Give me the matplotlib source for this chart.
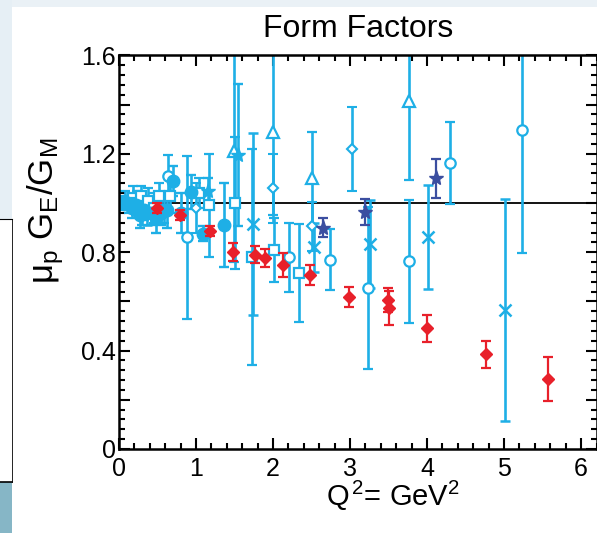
import numpy as np
import matplotlib
matplotlib.use('Agg')
import matplotlib.pyplot as plt
from matplotlib.patches import Rectangle
from matplotlib.lines import Line2D
from matplotlib.ticker import FixedLocator, MultipleLocator

plt.rcParams['font.family'] = ['Liberation Sans', 'DejaVu Sans']
plt.rcParams['mathtext.fontset'] = 'custom'
plt.rcParams['mathtext.rm'] = 'Liberation Sans'
plt.rcParams['mathtext.it'] = 'Liberation Sans'
plt.rcParams['mathtext.default'] = 'regular'

# red diamonds (recoil polarization)
red_q2 = [0.49, 0.79, 1.18, 1.48, 1.77, 1.90, 2.13, 2.48, 2.99, 3.49, 3.51, 4.00, 4.77, 5.57]
red_r = [0.98, 0.95, 0.885, 0.80, 0.79, 0.776, 0.748, 0.707, 0.618, 0.606, 0.573, 0.49, 0.386, 0.285]
red_err = [0.02, 0.02, 0.02, 0.037, 0.035, 0.035, 0.048, 0.04, 0.04, 0.05, 0.07, 0.055, 0.055, 0.09]

# dark blue stars
nav_q2 = [2.65, 3.19, 4.12]
nav_r = [0.90, 0.963, 1.10]
nav_err = [0.04, 0.053, 0.078]

# light blue data (Rosenbluth), by marker
fc_q2 = [0.05, 0.12, 0.17, 0.22, 0.27, 0.32, 0.42, 0.48, 0.55, 0.62, 0.70, 0.80, 0.94, 1.09, 1.36]
fc_r = [1.00, 1.00, 0.98, 0.99, 0.95, 0.97, 0.96, 0.94, 0.96, 0.97, 1.09, 0.96, 1.045, 0.875, 0.91]
fc_err = [0.02, 0.03, 0.04, 0.04, 0.05, 0.04, 0.05, 0.06, 0.05, 0.07, 0.06, 0.08, 0.07, 0.03, 0.17]

sq_q2 = [0.08, 0.13, 0.18, 0.24, 0.28, 0.38, 0.45, 0.52, 0.58, 0.66, 1.04, 1.17, 1.51, 1.73, 2.01, 2.34]
sq_r = [1.01, 0.99, 1.02, 1.00, 1.03, 1.01, 0.98, 1.03, 0.97, 1.03, 1.04, 0.99, 1.00, 0.78, 0.81, 0.715]
sq_err = [0.04, 0.03, 0.05, 0.05, 0.04, 0.05, 0.06, 0.05, 0.05, 0.07, 0.06, 0.21, 0.27, 0.44, 0.13, 0.20]

oc_q2 = [0.64, 0.88, 2.21, 2.74, 3.23, 3.77, 4.30, 5.23]
oc_r = [1.11, 0.86, 0.78, 0.77, 0.655, 0.764, 1.163, 1.297]
oc_err = [0.085, 0.33, 0.14, 0.125, 0.33, 0.25, 0.167, 0.50]

od_q2 = [1.00, 2.00, 2.51, 3.03]
od_r = [0.98, 1.06, 0.905, 1.22]
od_err = [0.10, 0.14, 0.10, 0.17]

ot_q2 = [1.49, 2.00, 2.51, 3.77]
ot_r = [1.21, 1.29, 1.10, 1.415]
ot_err = [0.45, 0.34, 0.19, 0.32]

cx_q2 = [0.36, 1.74, 2.53, 3.26, 4.01, 5.01]
cx_r = [0.95, 0.915, 0.82, 0.834, 0.862, 0.565]
cx_err = [0.04, 0.37, 0.10, 0.18, 0.21, 0.45]

cs_q2 = [0.30, 1.16, 1.55]
cs_r = [0.96, 1.05, 1.195]
cs_err = [0.05, 0.05, 0.29]

cyan = '#1eafe6'
red = '#e8202a'
navy = '#3b4ea0'

W, H = 597, 533
fig = plt.figure(figsize=(W / 100, H / 100), dpi=100)

# slide background bits
fig.patches.append(Rectangle((0, 1 - 7 / H), 1, 7 / H, transform=fig.transFigure,
                             facecolor='#eaf1f6', edgecolor='none', zorder=0))
fig.patches.append(Rectangle((0, 1 - 219 / H), 12 / W, 219 / H, transform=fig.transFigure,
                             facecolor='#e6eff5', edgecolor='none', zorder=0))
fig.patches.append(Rectangle((0, 0), 12 / W, 51 / H, transform=fig.transFigure,
                             facecolor='#86b6c6', edgecolor='none', zorder=0))
fig.lines.append(Line2D([0, 12 / W], [1 - 219 / H] * 2, transform=fig.transFigure, color='k', lw=0.8))
fig.lines.append(Line2D([12 / W] * 2, [1 - 219 / H, 51 / H], transform=fig.transFigure, color='k', lw=0.6))
fig.lines.append(Line2D([0, 12 / W], [51 / H] * 2, transform=fig.transFigure, color='k', lw=1.2))

ax = fig.add_axes([119 / W, 1 - 449 / H, (596.5 - 119) / W, 393.6 / H])
ax.set_xlim(0, 6.2)
ax.set_ylim(0, 1.6)

ax.axhline(1.0, color='k', lw=1.3, zorder=1)

eb = dict(linestyle='none', ecolor=cyan, elinewidth=1.9, capsize=3.5, capthick=1.7, zorder=2)
ax.errorbar(sq_q2, sq_r, yerr=sq_err, marker='s', ms=6.5, mfc='white', mec=cyan, mew=1.6, **eb)
ax.errorbar(oc_q2, oc_r, yerr=oc_err, marker='o', ms=7.5, mfc='white', mec=cyan, mew=1.6, **eb)
ax.errorbar(od_q2, od_r, yerr=od_err, marker='D', ms=5.5, mfc='white', mec=cyan, mew=1.5, **eb)
ax.errorbar(ot_q2, ot_r, yerr=ot_err, marker='^', ms=8, mfc='white', mec=cyan, mew=1.6, **eb)
ax.errorbar(cx_q2, cx_r, yerr=cx_err, marker='x', ms=8, mec=cyan, mew=1.8, **eb)
ax.errorbar(fc_q2, fc_r, yerr=fc_err, marker='o', ms=9, mfc=cyan, mec=cyan, **eb)
ax.errorbar(cs_q2, cs_r, yerr=cs_err, marker='*', ms=11, mfc=cyan, mec=cyan, **eb)

ax.errorbar(red_q2, red_r, yerr=red_err, linestyle='none', marker='D', ms=5.8,
            color=red, ecolor=red, elinewidth=1.6, capsize=3.5, capthick=1.6, zorder=4)
ax.errorbar(nav_q2, nav_r, yerr=nav_err, linestyle='none', marker='*', ms=11,
            color=navy, ecolor=navy, elinewidth=1.6, capsize=3.5, capthick=1.6, zorder=5)

# ticks
ax.xaxis.set_major_locator(MultipleLocator(1))
ax.xaxis.set_minor_locator(MultipleLocator(0.2))
yt = [0, 0.2, 0.4, 0.6, 0.8, 1.0, 1.2, 1.4, 1.6]
ax.yaxis.set_major_locator(FixedLocator(yt))
ax.set_yticklabels(['0', '', '0.4', '', '0.8', '', '1.2', '', '1.6'])
ax.yaxis.set_minor_locator(MultipleLocator(0.04))
ax.tick_params(which='both', direction='in', top=True, right=True, width=1.5, labelsize=18)
ax.tick_params(which='major', length=8)
ax.tick_params(which='minor', length=4)
ax.tick_params(axis='y', which='major', pad=2)
ax.tick_params(axis='x', which='major', pad=6)
for s in ax.spines.values():
    s.set_linewidth(1.8)

ax.set_title('Form Factors', fontsize=23, pad=13)
fig.text(46 / W, 1 - 211 / H, r'$\mu_p$ G$_E$/G$_M$', rotation=90, fontsize=25,
         ha='center', va='center')
fig.text(393 / W, 1 - 506 / H, r'Q$^{\,2}$= GeV$^2$', fontsize=21, ha='center', va='baseline')

fig.savefig('out.png', dpi=100)
